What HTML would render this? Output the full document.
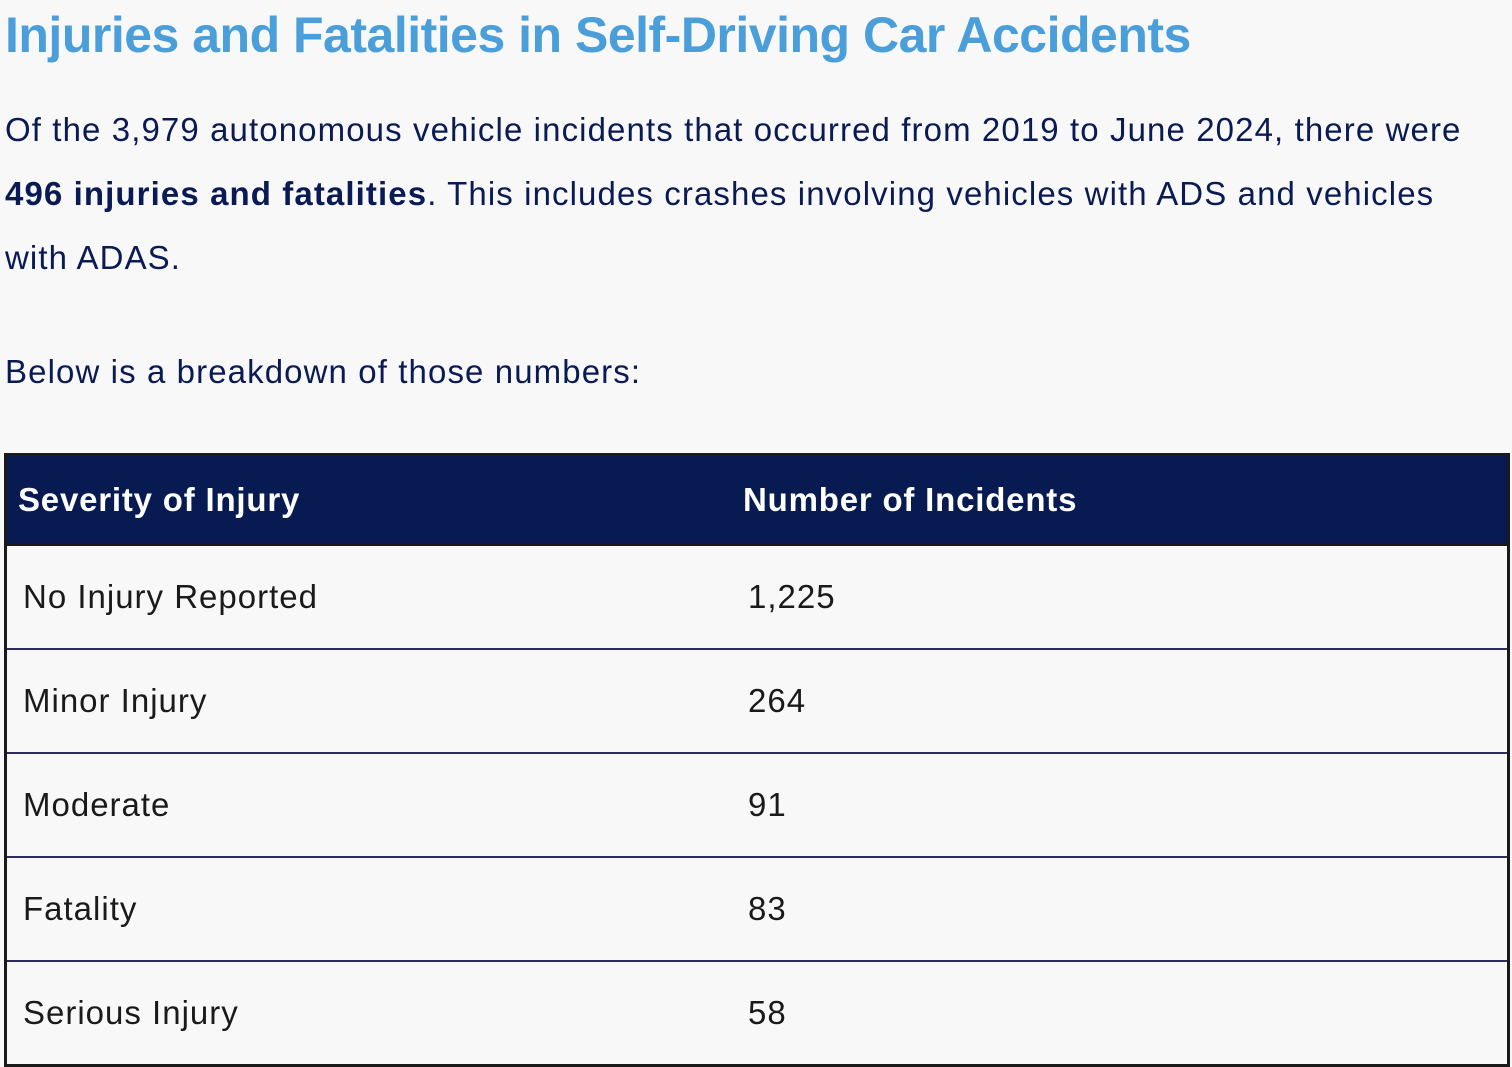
<!DOCTYPE html>
<html><head><meta charset="utf-8"><style>
html,body{margin:0;padding:0;background:#f8f8f8;width:1512px;height:1066px;overflow:hidden;font-family:"Liberation Sans",sans-serif;}
h1{position:absolute;left:5px;top:6px;margin:0;font-size:50px;font-weight:bold;color:#4a9fdb;white-space:nowrap;letter-spacing:-0.5px;}
.p{position:absolute;left:5px;font-size:33px;color:#0a1a55;white-space:nowrap;letter-spacing:1.1px;}
table{position:absolute;left:4px;top:453px;width:1506px;border-collapse:collapse;border:3px solid #1a1a1a;}
th{background:#071a52;color:#fff;font-size:33px;text-align:left;height:87px;border-bottom:3px solid #1a1a1a;padding:0 0 0 11px;letter-spacing:0.8px;}
td{font-size:33px;color:#1a1a1a;height:102px;border-top:2px solid #2e2c5c;padding:0 0 0 16px;letter-spacing:1px;}
</style></head><body>
<h1>Injuries and Fatalities in Self-Driving Car Accidents</h1>
<div class="p" style="top:111px">Of the 3,979 autonomous vehicle incidents that occurred from 2019 to June 2024, there were</div>
<div class="p" style="top:175px"><b>496 injuries and fatalities</b>. This includes crashes involving vehicles with ADS and vehicles</div>
<div class="p" style="top:239px">with ADAS.</div>
<div class="p" style="top:353px">Below is a breakdown of those numbers:</div>
<table>
<tr><th style="width:714px">Severity of Injury</th><th>Number of Incidents</th></tr>
<tr><td style="border-top:none">No Injury Reported</td><td style="border-top:none">1,225</td></tr>
<tr><td>Minor Injury</td><td>264</td></tr>
<tr><td>Moderate</td><td>91</td></tr>
<tr><td>Fatality</td><td>83</td></tr>
<tr><td>Serious Injury</td><td>58</td></tr>
</table>
</body></html>
